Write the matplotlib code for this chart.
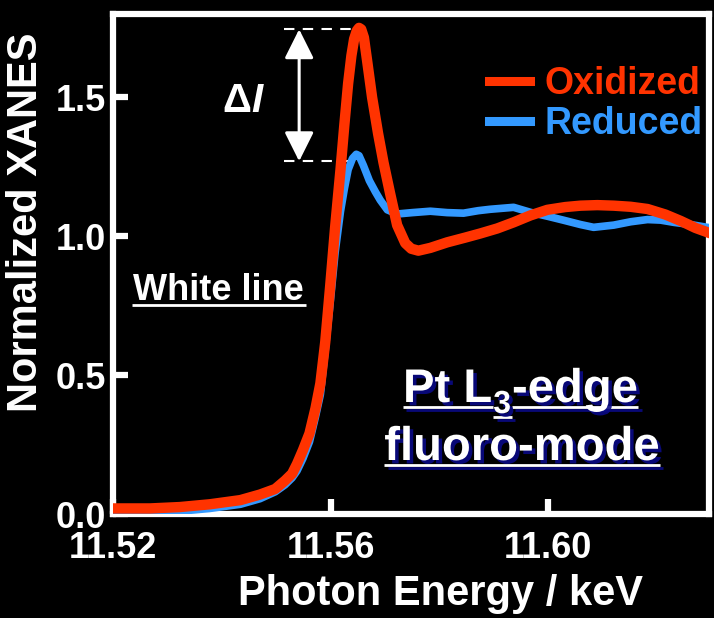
import matplotlib
matplotlib.use("Agg")
import matplotlib.pyplot as plt
import matplotlib.patheffects as pe
from matplotlib.lines import Line2D
from matplotlib.transforms import IdentityTransform

plt.rcParams['font.family'] = ['Liberation Sans', 'DejaVu Sans']
plt.rcParams['font.weight'] = 'bold'

# Pt L3-edge XANES, fluorescence mode
energy_ox = [11.5200, 11.5268, 11.5323, 11.5378, 11.5434, 11.5470, 11.5498, 11.5516,
             11.5529, 11.5538, 11.5549, 11.5561, 11.5572, 11.5581, 11.5590, 11.5599,
             11.5608, 11.5618, 11.5625, 11.5632, 11.5638, 11.5643, 11.5648, 11.5652,
             11.5656, 11.5661, 11.5667, 11.5676, 11.5687, 11.5697, 11.5709, 11.5722,
             11.5737, 11.5748, 11.5761, 11.5783, 11.5814, 11.5847, 11.5875, 11.5906,
             11.5936, 11.5967, 11.5998, 11.6031, 11.6059, 11.6090, 11.6120, 11.6151,
             11.6182, 11.6215, 11.6243, 11.6270, 11.6298]
xanes_ox = [0.020, 0.020, 0.025, 0.035, 0.050, 0.070, 0.090, 0.120,
            0.145, 0.180, 0.230, 0.290, 0.380, 0.470, 0.620, 0.820,
            1.030, 1.240, 1.400, 1.550, 1.650, 1.710, 1.740, 1.750,
            1.745, 1.715, 1.630, 1.500, 1.370, 1.265, 1.155, 1.040,
            0.975, 0.955, 0.948, 0.958, 0.978, 0.995, 1.010, 1.028,
            1.050, 1.075, 1.095, 1.105, 1.110, 1.112, 1.110, 1.106,
            1.098, 1.078, 1.055, 1.030, 1.010]

energy_red = [11.5200, 11.5323, 11.5378, 11.5434, 11.5470, 11.5498, 11.5516, 11.5529,
              11.5538, 11.5549, 11.5561, 11.5572, 11.5581, 11.5590, 11.5599, 11.5608,
              11.5618, 11.5625, 11.5632, 11.5640, 11.5647, 11.5652, 11.5660, 11.5671,
              11.5682, 11.5691, 11.5704, 11.5722, 11.5750, 11.5783, 11.5814, 11.5844,
              11.5871, 11.5893, 11.5936, 11.5967, 11.5998, 11.6027, 11.6059, 11.6083,
              11.6120, 11.6151, 11.6182, 11.6206, 11.6230, 11.6261, 11.6298]
xanes_red = [0.010, 0.010, 0.020, 0.035, 0.055, 0.080, 0.105, 0.130,
             0.155, 0.200, 0.260, 0.350, 0.430, 0.590, 0.760, 0.940,
             1.090, 1.170, 1.240, 1.280, 1.295, 1.290, 1.255, 1.200,
             1.160, 1.130, 1.095, 1.080, 1.085, 1.090, 1.085, 1.083,
             1.092, 1.097, 1.104, 1.086, 1.072, 1.058, 1.042, 1.032,
             1.040, 1.052, 1.060, 1.058, 1.050, 1.042, 1.030]

xticks = [11.52, 11.56, 11.60]
xtick_labels = ["11.52", "11.56", "11.60"]
yticks = [0.0, 0.5, 1.0, 1.5]
ytick_labels = ["0.0", "0.5", "1.0", "1.5"]

# white-line intensity difference marker
delta_top = 1.745
delta_bottom = 1.27

RED = '#FF3300'
BLUE = '#3399FF'
W, H = 714, 618

fig = plt.figure(figsize=(W / 100, H / 100), dpi=100, facecolor='black')
ax = fig.add_axes([113 / W, (H - 514) / H, 596 / W, 500 / H])
ax.set_facecolor('black')

ax.plot(energy_red, xanes_red, color=BLUE, lw=5.5, solid_joinstyle='round',
        solid_capstyle='butt', label='Reduced', zorder=3)
ax.plot(energy_ox, xanes_ox, color=RED, lw=7.5, solid_joinstyle='round',
        solid_capstyle='butt', label='Oxidized', zorder=4)

ax.set_xlim(11.52, 11.6295)
ax.set_ylim(0, 1.80)

for s in ax.spines.values():
    s.set_color('white')
    s.set_linewidth(4.5)

ax.set_xticks(xticks)
ax.set_xticklabels(xtick_labels)
ax.set_yticks(yticks)
ax.set_yticklabels(ytick_labels)
ax.tick_params(axis='both', direction='in', color='white', width=4.5, length=11,
               labelcolor='white', labelsize=26)
ax.tick_params(axis='x', pad=12)
ax.tick_params(axis='y', pad=5)

ax.set_xlabel('Photon Energy / keV', color='white', fontsize=30, fontweight='bold')
ax.set_ylabel('Normalized XANES', color='white', fontsize=30, fontweight='bold')
ax.xaxis.set_label_coords(0.55, -0.119)
ax.yaxis.set_label_coords(-0.112, 0.584)

# legend
handles = [Line2D([], [], color=RED, lw=6.5), Line2D([], [], color=BLUE, lw=6.5)]
leg = ax.legend(handles, ['Oxidized', 'Reduced'], loc='upper right',
                bbox_to_anchor=(0.99, 0.895), frameon=False, fontsize=27,
                handlelength=1.1, handletextpad=0.4, labelspacing=0.1,
                borderpad=0, borderaxespad=0)
for txt, c in zip(leg.get_texts(), [RED, BLUE]):
    txt.set_color(c)
    txt.set_fontweight('bold')

# delta I marker
dash_x = [11.5514, 11.5640]
ax.plot(dash_x, [delta_top, delta_top], color='white', lw=1.5, dashes=(5, 4), zorder=2)
ax.plot(dash_x, [delta_bottom, delta_bottom], color='white', lw=1.5, dashes=(5, 4), zorder=2)
ax.annotate('', xy=(11.5542, delta_top), xytext=(11.5542, delta_bottom),
            arrowprops=dict(arrowstyle='<|-|>,head_length=0.9,head_width=0.45',
                            mutation_scale=20, color='white', lw=2.2,
                            shrinkA=0, shrinkB=0), zorder=5)


def px(x, y):
    """Pixel position (from top-left) to display coordinates."""
    return x, H - y


ident = IdentityTransform()
fig.text(*px(251, 112), '\u0394', transform=ident, color='white', fontsize=29,
         fontweight='bold', ha='right', va='baseline')
fig.text(*px(251, 112), 'I', transform=ident, color='white', fontsize=29,
         fontweight='bold', style='italic', ha='left', va='baseline')

fig.canvas.draw()
renderer = fig.canvas.get_renderer()


def underline(x0, x1, y, lw=2.0, effects=None):
    ln = Line2D([x0, x1], [H - y, H - y], transform=ident, color='white', lw=lw,
                solid_capstyle='butt')
    if effects:
        ln.set_path_effects(effects)
    fig.add_artist(ln)


# "White line" label
t = fig.text(*px(133, 300), 'White line', transform=ident, color='white',
             fontsize=26, fontweight='bold', ha='left', va='baseline')
bb = t.get_window_extent(renderer)
underline(bb.x0 - 1, bb.x1 + 2, 305)

# edge / mode caption with shadow
text_fx = [pe.SimplePatchShadow(offset=(2.5, -2.5), shadow_rgbFace='#0a0a85', alpha=0.9),
           pe.Normal()]
line_fx = [pe.SimpleLineShadow(offset=(2.5, -2.5), shadow_color='#0a0a85', alpha=0.9),
           pe.Normal()]

base1 = 402
t1 = fig.text(*px(403, base1), 'Pt L', transform=ident, color='white', fontsize=34,
              fontweight='bold', ha='left', va='baseline', path_effects=text_fx)
b1 = t1.get_window_extent(renderer)
t2 = fig.text(b1.x1 + 1, H - (base1 + 11), '3', transform=ident, color='white',
              fontsize=23, fontweight='bold', ha='left', va='baseline', path_effects=text_fx)
b2 = t2.get_window_extent(renderer)
t3 = fig.text(b2.x1 + 1, H - base1, '-edge', transform=ident, color='white', fontsize=34,
              fontweight='bold', ha='left', va='baseline', path_effects=text_fx)
b3 = t3.get_window_extent(renderer)
underline(b1.x0, b1.x1 + 1, base1 + 5, effects=line_fx)
underline(b2.x0, b2.x1 + 1, base1 + 15, effects=line_fx)
underline(b3.x0, b3.x1, base1 + 5, effects=line_fx)

base2 = 460
t4 = fig.text(*px(522, base2), 'fluoro-mode', transform=ident, color='white', fontsize=34,
              fontweight='bold', ha='center', va='baseline', path_effects=text_fx)
b4 = t4.get_window_extent(renderer)
underline(b4.x0, b4.x1, base2 + 5, effects=line_fx)

fig.savefig('out.png', dpi=100, facecolor='black')
